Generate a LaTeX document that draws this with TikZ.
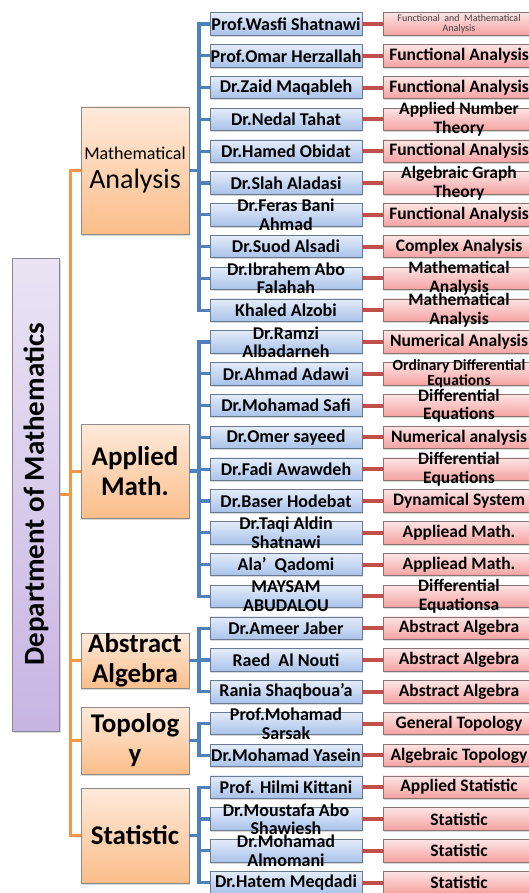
\documentclass[tikz,border=0pt]{standalone}
\usepackage{fontspec}
\setmainfont{Carlito}
\usetikzlibrary{positioning,shadows}

\definecolor{nametop}{HTML}{E4ECF9}
\definecolor{namebot}{HTML}{A8C2EA}
\definecolor{nameline}{HTML}{6A7A93}
\definecolor{fieldtop}{HTML}{FDE4E4}
\definecolor{fieldbot}{HTML}{F4A2A1}
\definecolor{fieldline}{HTML}{8B7373}
\definecolor{cattop}{HTML}{FEEADB}
\definecolor{catbot}{HTML}{FBBE8A}
\definecolor{catline}{HTML}{8E8A86}
\definecolor{depttop}{HTML}{EAE4F4}
\definecolor{deptbot}{HTML}{C7B4E3}
\definecolor{deptline}{HTML}{8A8594}
\definecolor{linkblue}{HTML}{4F81BD}
\definecolor{linkorange}{HTML}{F79646}
\definecolor{linkred}{HTML}{C0504D}

\begin{document}
\begin{tikzpicture}[x=1pt, y=-1pt,
		box/.style={inner sep=0pt, outer sep=0pt, line width=0.8pt,
			drop shadow={opacity=0.3, shadow xshift=1.2pt, shadow yshift=-1.5pt}},
		namebox/.style={box, draw=nameline, top color=nametop, bottom color=namebot,
			minimum width=152pt, minimum height=22.5pt},
		fieldbox/.style={box, draw=fieldline, top color=fieldtop, bottom color=fieldbot,
			minimum width=152pt, minimum height=22.5pt},
		catbox/.style={box, draw=catline, top color=cattop, bottom color=catbot,
			minimum width=108pt},
		txt/.style={font=\fontsize{18}{18.5}\selectfont\bfseries, align=center, text=black},
		fieldtxt/.style={font=\fontsize{17.5}{18.5}\selectfont\bfseries, align=center, text=black},
		midtxt/.style={font=\fontsize{15.5}{14.5}\selectfont\bfseries, align=center, text=black},
		smalltxt/.style={font=\fontsize{10}{10}\selectfont, align=center, text=black!75},
		cattxt/.style={font=\fontsize{27}{30}\selectfont\bfseries, align=center, text=black},
		bluelink/.style={line width=3.2pt, draw=linkblue},
		orangelink/.style={line width=3pt, draw=linkorange},
		redlink/.style={line width=4pt, draw=linkred}
	]
	\path[use as bounding box, clip] (0,0) rectangle (529,893);
	
	% department and fields of study
	\node [box, draw=deptline, top color=depttop, bottom color=deptbot,
		minimum width=47pt, minimum height=473pt,
		label={[rotate=90, font=\fontsize{29}{29}\selectfont\bfseries, text=black]center:Department of Mathematics}] (dept) at (36,494.5) {};
	\node [catbox, minimum height=127pt,
		label={[cattxt, font=\fontsize{28}{29}\selectfont]center:{{\fontsize{18}{18}\selectfont Mathematical}\\Analysis}}] (ma) at (135,170.5) {};
	\node [catbox, minimum height=94pt, label={[cattxt]center:{Applied\\Math.}}] (am) at (135,471) {};
	\node [catbox, minimum height=55pt, label={[cattxt]center:{Abstract\\Algebra}}] (aa) at (135,660.5) {};
	\node [catbox, minimum height=67pt, label={[cattxt]center:{Topolog\\y}}] (to) at (135,740.5) {};
	\node [catbox, minimum height=95pt, label={[cattxt]center:Statistic}] (st) at (135,835.5) {};
	
	% staff
	\node [namebox, label={[txt]center:Prof.Wasfi Shatnawi}] (n1) at (286,24) {};
	\node [namebox, below=9.3pt of n1, label={[txt]center:Prof.Omar Herzallah}] (n2) {};
	\node [namebox, below=9.3pt of n2, label={[txt]center:Dr.Zaid Maqableh}] (n3) {};
	\node [namebox, below=9.3pt of n3, label={[txt]center:Dr.Nedal Tahat}] (n4) {};
	\node [namebox, below=9.3pt of n4, label={[txt]center:Dr.Hamed Obidat}] (n5) {};
	\node [namebox, below=9.3pt of n5, label={[txt]center:Dr.Slah Aladasi}] (n6) {};
	\node [namebox, below=9.3pt of n6, label={[txt]center:{Dr.Feras Bani\\Ahmad}}] (n7) {};
	\node [namebox, below=9.3pt of n7, label={[txt]center:Dr.Suod Alsadi}] (n8) {};
	\node [namebox, below=9.3pt of n8, label={[txt]center:{Dr.Ibrahem Abo\\Falahah}}] (n9) {};
	\node [namebox, below=9.3pt of n9, label={[txt]center:Khaled Alzobi}] (n10) {};
	\node [namebox, below=9.3pt of n10, label={[txt]center:{Dr.Ramzi\\Albadarneh}}] (n11) {};
	\node [namebox, below=9.3pt of n11, label={[txt]center:Dr.Ahmad Adawi}] (n12) {};
	\node [namebox, below=9.3pt of n12, label={[txt]center:Dr.Mohamad Safi}] (n13) {};
	\node [namebox, below=9.3pt of n13, label={[txt]center:Dr.Omer sayeed}] (n14) {};
	\node [namebox, below=9.3pt of n14, label={[txt]center:Dr.Fadi Awawdeh}] (n15) {};
	\node [namebox, below=9.3pt of n15, label={[txt]center:Dr.Baser Hodebat}] (n16) {};
	\node [namebox, below=9.3pt of n16, label={[txt]center:{Dr.Taqi Aldin\\Shatnawi}}] (n17) {};
	\node [namebox, below=9.3pt of n17, label={[txt]center:Ala’\ \ Qadomi}] (n18) {};
	\node [namebox, below=9.3pt of n18, label={[txt]center:{MAYSAM\\ABUDALOU}}] (n19) {};
	\node [namebox, below=9.3pt of n19, label={[txt]center:Dr.Ameer Jaber}] (n20) {};
	\node [namebox, below=9.3pt of n20, label={[txt]center:Raed\ \ Al Nouti}] (n21) {};
	\node [namebox, below=9.3pt of n21, label={[txt]center:Rania Shaqboua’a}] (n22) {};
	\node [namebox, below=9.3pt of n22, label={[txt]center:{Prof.Mohamad\\Sarsak}}] (n23) {};
	\node [namebox, below=9.3pt of n23, label={[txt]center:Dr.Mohamad Yasein}] (n24) {};
	\node [namebox, below=9.3pt of n24, label={[txt]center:Prof. Hilmi Kittani}] (n25) {};
	\node [namebox, below=9.3pt of n25, label={[txt]center:{Dr.Moustafa Abo\\Shawiesh}}] (n26) {};
	\node [namebox, below=9.3pt of n26, label={[txt]center:{Dr.Mohamad\\Almomani}}] (n27) {};
	\node [namebox, below=9.3pt of n27, label={[txt]center:Dr.Hatem Meqdadi}] (n28) {};
	
	% research areas
	\node [fieldbox, right=21pt of n1, label={[smalltxt]center:{Functional\ \ and\ \ Mathematical\\Analysis}}] (f1) {};
	\node [fieldbox, right=21pt of n2, label={[fieldtxt]center:Functional Analysis}] (f2) {};
	\node [fieldbox, right=21pt of n3, label={[fieldtxt]center:Functional Analysis}] (f3) {};
	\node [fieldbox, right=21pt of n4, label={[fieldtxt]center:{Applied Number\\Theory}}] (f4) {};
	\node [fieldbox, right=21pt of n5, label={[fieldtxt]center:Functional Analysis}] (f5) {};
	\node [fieldbox, right=21pt of n6, label={[fieldtxt]center:{Algebraic Graph\\Theory}}] (f6) {};
	\node [fieldbox, right=21pt of n7, label={[fieldtxt]center:Functional Analysis}] (f7) {};
	\node [fieldbox, right=21pt of n8, label={[fieldtxt]center:Complex Analysis}] (f8) {};
	\node [fieldbox, right=21pt of n9, label={[fieldtxt]center:{Mathematical\\Analysis}}] (f9) {};
	\node [fieldbox, right=21pt of n10, label={[fieldtxt]center:{Mathematical\\Analysis}}] (f10) {};
	\node [fieldbox, right=21pt of n11, label={[fieldtxt]center:Numerical Analysis}] (f11) {};
	\node [fieldbox, right=21pt of n12, label={[midtxt]center:{Ordinary Differential\\Equations}}] (f12) {};
	\node [fieldbox, right=21pt of n13, label={[fieldtxt]center:{Differential\\Equations}}] (f13) {};
	\node [fieldbox, right=21pt of n14, label={[fieldtxt]center:Numerical analysis}] (f14) {};
	\node [fieldbox, right=21pt of n15, label={[fieldtxt]center:{Differential\\Equations}}] (f15) {};
	\node [fieldbox, right=21pt of n16, label={[fieldtxt]center:Dynamical System}] (f16) {};
	\node [fieldbox, right=21pt of n17, label={[fieldtxt]center:Appliead Math.}] (f17) {};
	\node [fieldbox, right=21pt of n18, label={[fieldtxt]center:Appliead Math.}] (f18) {};
	\node [fieldbox, right=21pt of n19, label={[fieldtxt]center:{Differential\\Equationsa}}] (f19) {};
	\node [fieldbox, right=21pt of n20, label={[fieldtxt]center:Abstract Algebra}] (f20) {};
	\node [fieldbox, right=21pt of n21, label={[fieldtxt]center:Abstract Algebra}] (f21) {};
	\node [fieldbox, right=21pt of n22, label={[fieldtxt]center:Abstract Algebra}] (f22) {};
	\node [fieldbox, right=21pt of n23, label={[fieldtxt]center:General Topology}] (f23) {};
	\node [fieldbox, right=21pt of n24, label={[fieldtxt]center:Algebraic Topology}] (f24) {};
	\node [fieldbox, right=21pt of n25, label={[fieldtxt]center:Applied Statistic}] (f25) {};
	\node [fieldbox, right=21pt of n26, label={[fieldtxt]center:Statistic}] (f26) {};
	\node [fieldbox, right=21pt of n27, label={[fieldtxt]center:Statistic}] (f27) {};
	\node [fieldbox, right=21pt of n28, label={[fieldtxt]center:Statistic}] (f28) {};
	
	% junctions
	\coordinate [right=11pt of dept] (dj);
	\coordinate [right=10pt of ma] (maj);
	\coordinate [right=10pt of am] (amj);
	\coordinate [right=10pt of aa] (aaj);
	\coordinate [right=10pt of to] (toj);
	\coordinate [right=10pt of st] (stj);
	
	\draw [orangelink] (dept) -- (dj) (dj) |- (ma) (dj) |- (am) (dj) |- (aa)
		(dj) |- (to) (dj) |- (st);
	\draw [bluelink] (ma) -- (maj) (maj) |- (n1) (maj) |- (n2) (maj) |- (n3)
		(maj) |- (n4) (maj) |- (n5) (maj) |- (n6) (maj) |- (n7) (maj) |- (n8)
		(maj) |- (n9) (maj) |- (n10);
	\draw [bluelink] (am) -- (amj) (amj) |- (n11) (amj) |- (n12) (amj) |- (n13)
		(amj) |- (n14) (amj) |- (n15) (amj) |- (n16) (amj) |- (n17) (amj) |- (n18)
		(amj) |- (n19);
	\draw [bluelink] (aa) -- (aaj) (aaj) |- (n20) (aaj) |- (n21) (aaj) |- (n22);
	\draw [bluelink] (to) -- (toj) (toj) |- (n23) (toj) |- (n24);
	\draw [bluelink] (st) -- (stj) (stj) |- (n25) (stj) |- (n26) (stj) |- (n27)
		(stj) |- (n28);
	\draw [redlink] (n1) -- (f1) (n2) -- (f2) (n3) -- (f3) (n4) -- (f4)
		(n5) -- (f5) (n6) -- (f6) (n7) -- (f7) (n8) -- (f8) (n9) -- (f9)
		(n10) -- (f10) (n11) -- (f11) (n12) -- (f12) (n13) -- (f13)
		(n14) -- (f14) (n15) -- (f15) (n16) -- (f16) (n17) -- (f17)
		(n18) -- (f18) (n19) -- (f19) (n20) -- (f20) (n21) -- (f21)
		(n22) -- (f22) (n23) -- (f23) (n24) -- (f24) (n25) -- (f25)
		(n26) -- (f26) (n27) -- (f27) (n28) -- (f28);
\end{tikzpicture}
\end{document}
